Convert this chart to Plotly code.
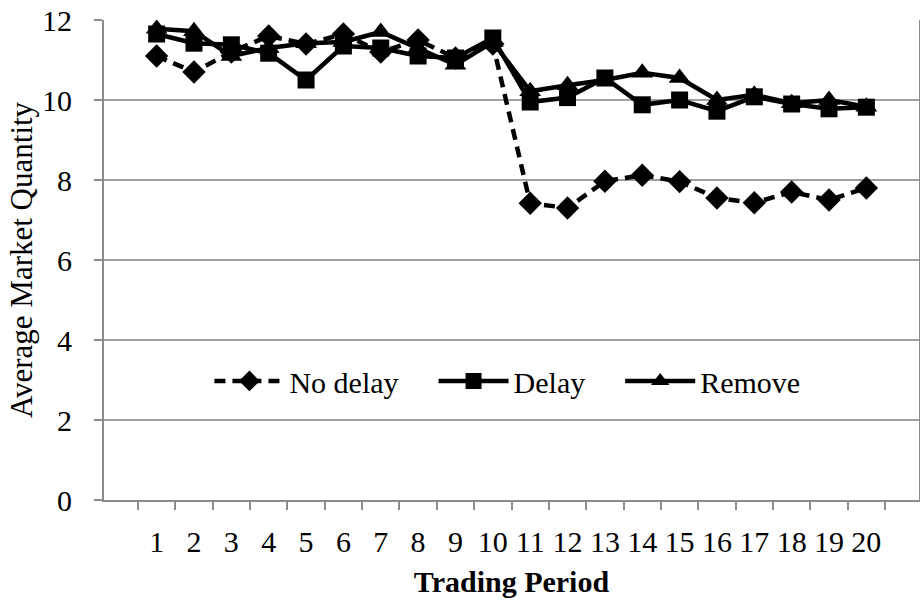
import plotly.graph_objects as go

periods = [str(i) for i in range(1, 21)]
no_delay = [11.1, 10.7, 11.2, 11.6, 11.4, 11.65, 11.2, 11.5, 11.05, 11.4,
            7.42, 7.3, 7.97, 8.12, 7.96, 7.55, 7.43, 7.7, 7.5, 7.8]
delay = [11.65, 11.42, 11.38, 11.17, 10.5, 11.35, 11.3, 11.1, 11.05, 11.55,
         9.95, 10.06, 10.55, 9.88, 10.0, 9.72, 10.08, 9.9, 9.78, 9.82]
remove = [11.78, 11.72, 11.1, 11.3, 11.42, 11.45, 11.7, 11.3, 10.88, 11.45,
          10.22, 10.37, 10.5, 10.68, 10.55, 10.0, 10.13, 9.92, 10.0, 9.83]
y_ticks = [0, 2, 4, 6, 8, 10, 12]
series_names = ["No delay", "Delay", "Remove"]

FONT = "Liberation Serif, Times New Roman, serif"
FS = 30
PAD = "\u00a0" * 4

fig = go.Figure()
fig.add_trace(go.Scatter(x=periods, y=no_delay, name=series_names[0] + PAD, mode="lines+markers",
                         line=dict(color="black", width=4.5, dash="11px,7px"),
                         marker=dict(symbol="diamond", size=18, color="black")))
fig.add_trace(go.Scatter(x=periods, y=delay, name=series_names[1] + PAD, mode="lines+markers",
                         line=dict(color="black", width=4.5),
                         marker=dict(symbol="square", size=17, color="black")))
fig.add_trace(go.Scatter(x=periods, y=remove, name=series_names[2], mode="lines+markers",
                         line=dict(color="black", width=4.5),
                         marker=dict(symbol="triangle-up", size=19, color="black")))

fig.update_layout(
    width=920, height=603,
    margin=dict(l=104, r=1, t=20, b=103),
    paper_bgcolor="white", plot_bgcolor="white",
    font=dict(family=FONT, size=FS, color="black"),
    showlegend=True,
    legend=dict(orientation="h", x=0.495, y=0.248, xanchor="center", yanchor="middle",
                font=dict(family=FONT, size=FS), bgcolor="rgba(0,0,0,0)",
                itemwidth=70, tracegroupgap=0),
    xaxis=dict(type="category", tickson="boundaries", ticks="outside", ticklen=8,
               tickcolor="#8c8c8c", tickwidth=1.5, tickangle=0, automargin=False,
               showline=True, linecolor="#8c8c8c", linewidth=2,
               showgrid=False, zeroline=False, ticklabelstandoff=14,
               tickfont=dict(family=FONT, size=FS),
               title=dict(text="<b>Trading Period</b>", font=dict(family=FONT, size=FS), standoff=14)),
    yaxis=dict(range=[0, 12], tickvals=y_ticks, ticks="outside", ticklen=8,
               tickcolor="#8c8c8c", tickwidth=1.5, automargin=False,
               showline=True, linecolor="#8c8c8c", linewidth=2, mirror=True,
               showgrid=True, gridcolor="#a0a0a0", gridwidth=1.5, zeroline=False,
               ticklabelstandoff=16,
               tickfont=dict(family=FONT, size=FS),
               title=dict(text="Average Market Quantity", font=dict(family=FONT, size=31), standoff=0)),
)

fig.write_html("out.html", config={"displayModeBar": False},
               post_script="document.body.style.margin='0';")
